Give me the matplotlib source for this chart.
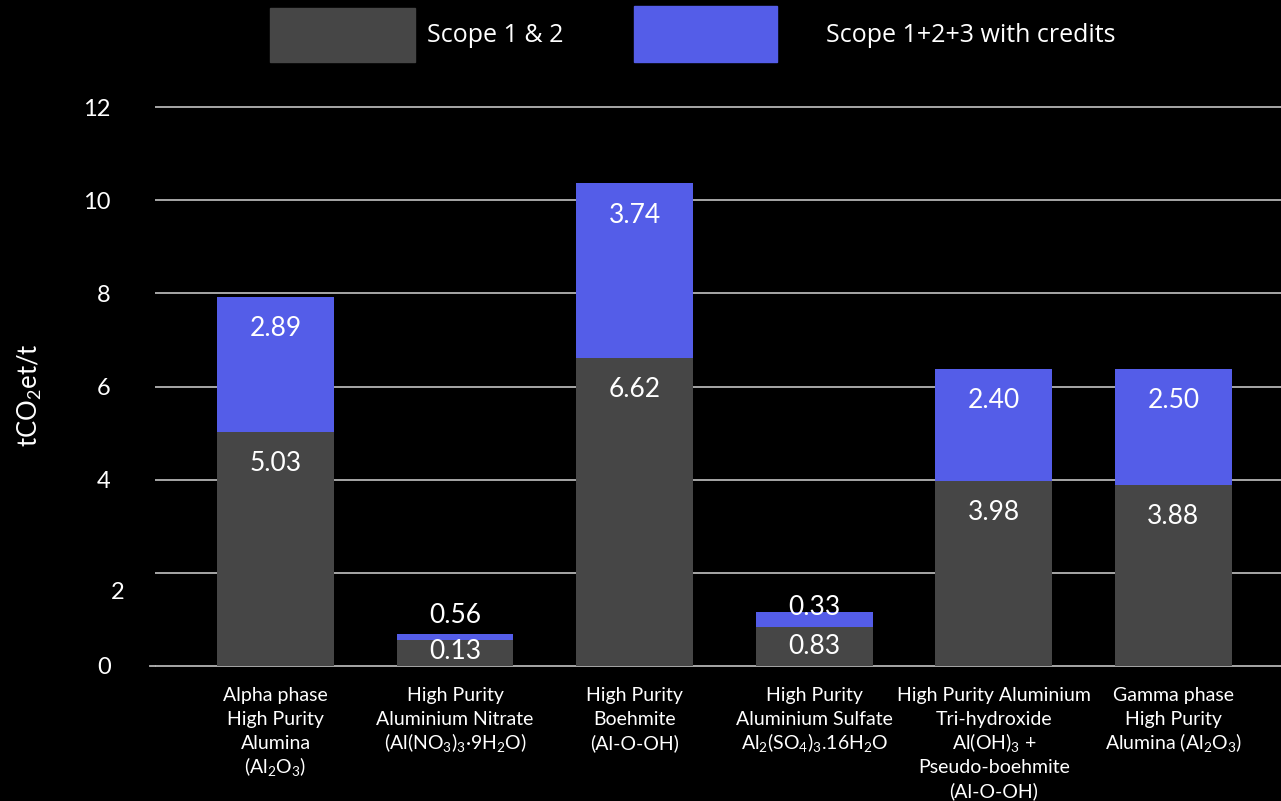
import matplotlib
matplotlib.use("Agg")
import matplotlib.pyplot as plt
import matplotlib.transforms as mtransforms
from matplotlib.patches import Rectangle
import numpy as np

plt.rcParams['font.family'] = ['Lato', 'DejaVu Sans']
plt.rcParams['mathtext.default'] = 'regular'

categories = [
    "Alpha phase\nHigh Purity\nAlumina\n(Al$_2$O$_3$)",
    "High Purity\nAluminium Nitrate\n(Al(NO$_3$)$_3$·9H$_2$O)",
    "High Purity\nBoehmite\n(Al-O-OH)",
    "High Purity\nAluminium Sulfate\nAl$_2$(SO$_4$)$_3$.16H$_2$O",
    "High Purity Aluminium\nTri-hydroxide\nAl(OH)$_3$ +\nPseudo-boehmite\n(Al-O-OH)",
    "Gamma phase\nHigh Purity\nAlumina (Al$_2$O$_3$)",
]
scope12 = [5.03, 0.56, 6.62, 0.83, 3.98, 3.88]
scope123_credits = [2.89, 0.13, 3.74, 0.33, 2.40, 2.50]
series_names = ["Scope 1 & 2", "Scope 1+2+3 with credits"]
yticks = [0, 2, 4, 6, 8, 10, 12]

GRAY = "#464646"
BLUE = "#545de8"
W, H = 1281, 801
fig = plt.figure(figsize=(W / 100, H / 100), dpi=100, facecolor="black")

ymin, ymax = -0.1, 12.5
pxu = (666 - 107) / 12.0
top_px = 666 - ymax * pxu
bot_px = 666 - ymin * pxu
ax = fig.add_axes([155 / W, (H - bot_px) / H, 1 - 155 / W, (bot_px - top_px) / H])
ax.set_facecolor("black")

x = np.arange(len(categories))
width = 0.65
b1 = ax.bar(x, scope12, width, color=GRAY, label=series_names[0], zorder=3)
b2 = ax.bar(x, scope123_credits, width, bottom=scope12, color=BLUE,
            label=series_names[1], zorder=3)

ax.set_xlim(-0.671, 5.599)
ax.set_ylim(ymin, ymax)
ax.set_yticks(yticks)
ax.set_yticklabels([str(t) for t in yticks])
for t in yticks:
    ax.axhline(t, color="#b4b4b4", lw=1.3, zorder=1)
ax.plot([-0.699, -0.671], [0, 0], color="#b4b4b4", lw=1.3, clip_on=False)
for s in ax.spines.values():
    s.set_visible(False)
ax.tick_params(axis="y", length=0, pad=32, labelsize=17, labelcolor="white")
ax.set_xticks(x)
ax.set_xticklabels([])
ax.tick_params(axis="x", length=0)

# category labels, one line at a time for even spacing
PT = 100 / 72.0
for i, cat in enumerate(categories):
    for j, line in enumerate(cat.split("\n")):
        base_px = 701 + 24 * j
        ax.annotate(line, xy=(x[i], 0), xycoords=ax.get_xaxis_transform(),
                    xytext=(0, -(base_px - bot_px) / PT), textcoords="offset points",
                    ha="center", va="baseline", color="white", fontsize=14,
                    annotation_clip=False)

# quirk: "2" label shifted
for lbl, t in zip(ax.get_yticklabels(), yticks):
    if t == 2:
        lbl.set_transform(lbl.get_transform() +
                          mtransforms.ScaledTranslation(14 / 100, -18 / 100, fig.dpi_scale_trans))

fig.text(30 / W, 1 - 395 / H, "tCO$_2$et/t", color="white", fontsize=18.5,
         rotation=90, ha="center", va="center")

# value labels
lab_kw = dict(color="white", fontsize=19, ha="center", va="center", zorder=5)
off = 0.68
for i in range(len(categories)):
    g = scope12[i]
    b = scope123_credits[i]
    tot = g + b
    if g >= 1:
        ax.text(x[i], g - off, f"{g:.2f}", **lab_kw)
        ax.text(x[i], tot - off, f"{b:.2f}", **lab_kw)
    elif b < 0.2 and g < 0.7:
        ax.text(x[i], tot + 0.4, f"{g:.2f}", **lab_kw)
        ax.text(x[i], tot / 2 - 0.03, f"{b:.2f}", **lab_kw)
    else:
        ax.text(x[i], g / 2, f"{g:.2f}", **lab_kw)
        ax.text(x[i], tot + 0.1, f"{b:.2f}", **lab_kw)

# legend (drawn in figure pixel space)
def px2fig(xp, yp):
    return xp / W, 1 - yp / H

legend_items = [(GRAY, series_names[0], (270, 8, 415, 62), 427),
                (BLUE, series_names[1], (634, 6, 777, 62), 826)]
for col, name, (x0, y0, x1, y1), tx in legend_items:
    fx, fy = px2fig(x0, y1)
    fig.patches.append(Rectangle((fx, fy), (x1 - x0) / W, (y1 - y0) / H,
                                 transform=fig.transFigure, color=col))
    fig.text(tx / W, 1 - 35 / H, name, color="white", fontsize=18,
             family="Open Sans", ha="left", va="center")

fig.savefig("out.png", dpi=100, facecolor="black")
